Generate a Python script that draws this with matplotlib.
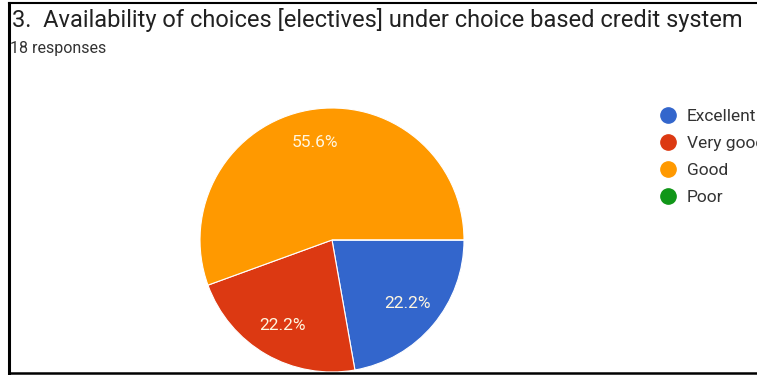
import matplotlib.pyplot as plt
from matplotlib.lines import Line2D

plt.rcParams['font.family'] = ['Roboto', 'DejaVu Sans']

# survey data
labels = ['Excellent', 'Very good', 'Good', 'Poor']
counts = [4, 4, 10, 0]
colors = ['#3366CC', '#DC3912', '#FF9900', '#109618']
title = '3.  Availability of choices [electives] under choice based credit system'
subtitle = '18 responses'

W, H = 757, 375
fig = plt.figure(figsize=(W / 100, H / 100), dpi=100)

# pie axes: centre (332, 240) px, radius 132 px
cx, cy, r = 332, 240, 132
ax = fig.add_axes([(cx - r) / W, (H - cy - r) / H, 2 * r / W, 2 * r / H])


def pct(p):
    return '%.1f%%' % p if p > 0 else ''


wedges, texts, autotexts = ax.pie(counts, colors=colors, startangle=0, counterclock=False,
                                  autopct=pct, pctdistance=0.75, radius=1,
                                  wedgeprops=dict(edgecolor='white', linewidth=0.8))
for t in autotexts:
    t.set_color('#FFF6E0')
    t.set_fontsize(12.5)
ax.set_xlim(-1, 1)
ax.set_ylim(-1, 1)
ax.set_aspect('equal')
ax.axis('off')

fig.text(12 / W, 1 - 20 / H, title, fontsize=17, color='#212121', va='center', ha='left')
fig.text(10 / W, 1 - 48 / H, subtitle, fontsize=11.5, color='#333333', va='center', ha='left')

# legend runs past the right edge, as in the screenshot
handles = [Line2D([], [], marker='o', linestyle='none', markersize=11,
                  markerfacecolor=c, markeredgecolor=c) for c in colors]
fig.legend(handles, labels, loc='upper left', bbox_to_anchor=(658 / W, 1 - 109 / H),
           frameon=False, fontsize=12.5, labelspacing=0.68, handletextpad=0.45,
           handlelength=1.2, borderpad=0, borderaxespad=0, labelcolor='#333333')

# screenshot frame
fig.add_artist(Line2D([9 / W, 9 / W], [1 - 3 / H, 2 / H], transform=fig.transFigure,
                      color='black', linewidth=2.2))
fig.add_artist(Line2D([9 / W, 1], [1 - 3 / H, 1 - 3 / H], transform=fig.transFigure,
                      color='black', linewidth=1.5))
fig.add_artist(Line2D([9 / W, 1], [2 / H, 2 / H], transform=fig.transFigure,
                      color='black', linewidth=1.8))

fig.savefig('out.png', dpi=100)
